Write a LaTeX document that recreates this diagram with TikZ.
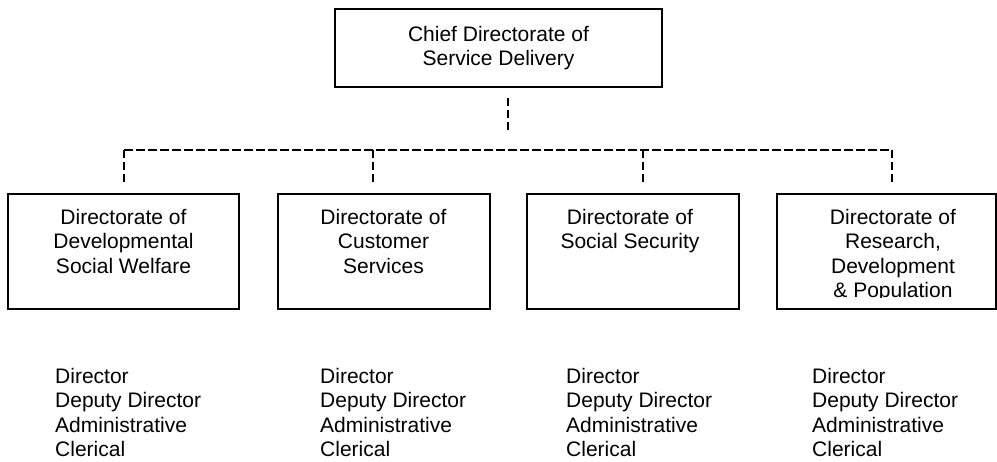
\documentclass[tikz,border=0pt]{standalone}
\usepackage{fontspec}
\setmainfont{Liberation Sans}

\begin{document}
\begin{tikzpicture}[x=1pt,y=-1pt,
    chiefbox/.style={draw, line width=1.5pt, minimum width=327pt, minimum height=78pt, align=center, inner sep=0pt, font=\fontsize{21}{24}\selectfont},
    dirbox/.style={draw, line width=1.5pt, minimum width=#1, minimum height=115pt, inner sep=0pt},
    boxtext/.style={anchor=north, align=center, inner sep=0pt, font=\fontsize{21}{24.5}\selectfont},
    stafflist/.style={anchor=north west, align=left, inner sep=0pt, font=\fontsize{21}{24.5}\selectfont},
    link/.style={line width=1.5pt, dash pattern=on 8.5pt off 3.5pt}]
    \useasboundingbox (0,0) rectangle (997,462);

    \node[chiefbox](chief) at (498.5,48) {Chief Directorate of\\Service Delivery};

    \node[dirbox=231pt](dsw) at (123.5,251.5) {};
    \node[dirbox=212pt](cs) at (384,251.5) {};
    \node[dirbox=212pt](ss) at (633,251.5) {};
    \node[dirbox=219pt](rdp) at (886.5,251.5) {};

    \node[boxtext](dswtext) at (123.5,208.7) {Directorate of\\Developmental\\Social Welfare};
    \node[boxtext](cstext) at (383.5,208.7) {Directorate of\\Customer\\Services};
    \node[boxtext](sstext) at (630,208.7) {Directorate of\\Social Security};
    \begin{scope}
        \clip (777,194) rectangle (996,297.5);
        \node[boxtext](rdptext) at (893,208.7) {Directorate of\\Research,\\Development\\\& Population};
    \end{scope}

    \coordinate(bus) at (508,150);
    \coordinate(b1) at (124,150);
    \coordinate(b2) at (373,150);
    \coordinate(b3) at (643,150);
    \coordinate(b4) at (892,150);

    \draw[link, shorten <=10pt, shorten >=18pt](chief.south -| bus)--(bus);
    \draw[link](b1)--(b4);
    \draw[link, shorten >=8pt](b1)--(b1 |- dsw.north);
    \draw[link, shorten >=8pt](b2)--(b2 |- cs.north);
    \draw[link, shorten >=8pt](b3)--(b3 |- ss.north);
    \draw[link, shorten >=8pt](b4)--(b4 |- rdp.north);

    \node[stafflist](dswstaff) at (55,367.7) {Director\\Deputy Director\\Administrative\\Clerical};
    \node[stafflist](csstaff) at (320,367.7) {Director\\Deputy Director\\Administrative\\Clerical};
    \node[stafflist](ssstaff) at (566,367.7) {Director\\Deputy Director\\Administrative\\Clerical};
    \node[stafflist](rdpstaff) at (812,367.7) {Director\\Deputy Director\\Administrative\\Clerical};
\end{tikzpicture}
\end{document}
